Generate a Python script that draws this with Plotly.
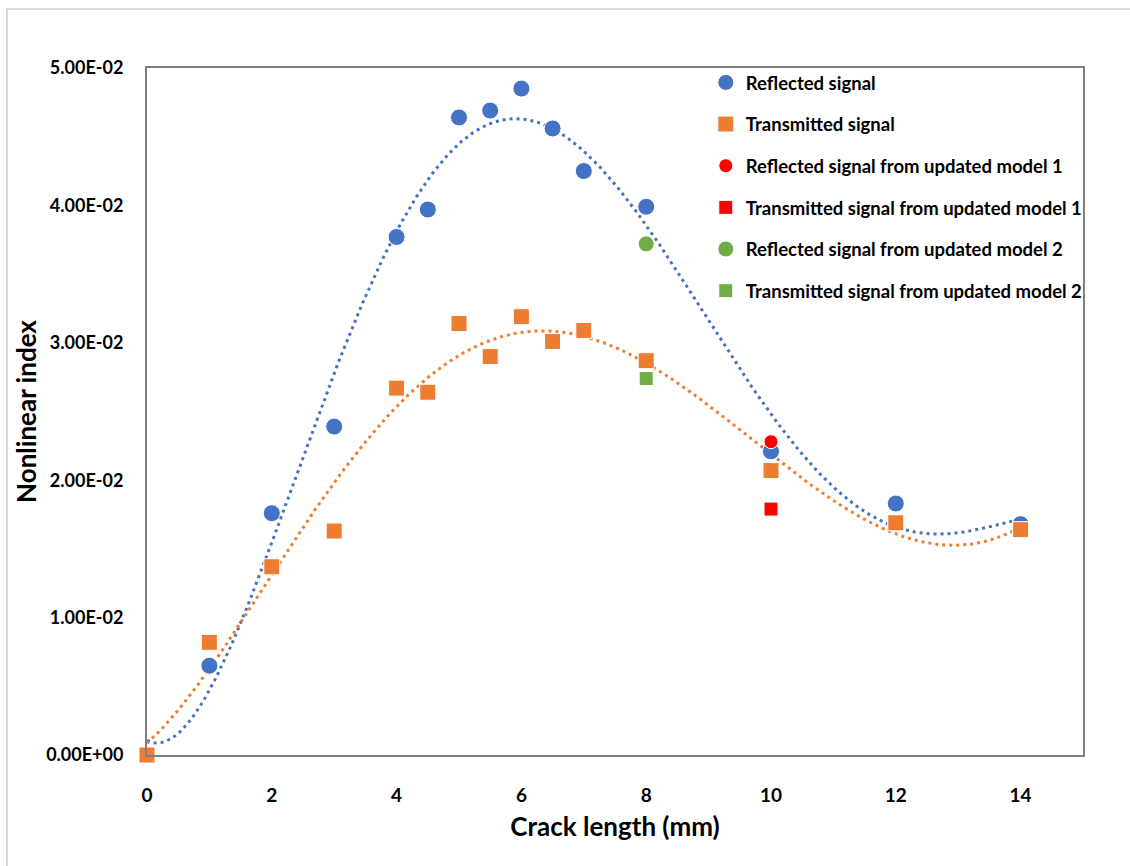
import numpy as np
import plotly.graph_objects as go

# ---- data ----
crack_len = [0, 1, 2, 3, 4, 4.5, 5, 5.5, 6, 6.5, 7, 8, 10, 12, 14]
reflected = [0.0, 0.0065, 0.0176, 0.0239, 0.0377, 0.0397, 0.0464, 0.0469, 0.0485,
             0.0456, 0.0425, 0.0399, 0.0221, 0.0183, 0.0168]
transmitted = [0.0, 0.0082, 0.0137, 0.0163, 0.0267, 0.0264, 0.0314, 0.0290, 0.0319,
               0.0301, 0.0309, 0.0287, 0.0207, 0.0169, 0.0164]
upd1_x = [10]
upd1_reflected = [0.0228]
upd1_transmitted = [0.0179]
upd2_x = [8]
upd2_reflected = [0.0372]
upd2_transmitted = [0.0274]

y_tickvals = [0, 0.01, 0.02, 0.03, 0.04, 0.05]
y_ticktext = ["0.00E+00", "1.00E-02", "2.00E-02", "3.00E-02", "4.00E-02", "5.00E-02"]
x_tickvals = [0, 2, 4, 6, 8, 10, 12, 14]

BLUE = "#4472C4"
ORANGE = "#ED7D31"
RED = "#FF0000"
GREEN = "#70AD47"
FONT = "Lato"

# polynomial trendlines (order 5, like Excel's polynomial trendline)
xs = np.linspace(min(crack_len), max(crack_len), 400)
fit_r = np.polyval(np.polyfit(crack_len, reflected, 5), xs)
fit_t = np.polyval(np.polyfit(crack_len, transmitted, 5), xs)

fig = go.Figure()
dotdash = "3px,4px"
fig.add_trace(go.Scatter(x=xs, y=fit_r, mode="lines", showlegend=False, hoverinfo="skip",
                         line=dict(color=BLUE, width=3, dash=dotdash)))
fig.add_trace(go.Scatter(x=xs, y=fit_t, mode="lines", showlegend=False, hoverinfo="skip",
                         line=dict(color=ORANGE, width=3, dash=dotdash)))

def pts(x, y, name, color, symbol, size, group):
    return go.Scatter(x=x, y=y, mode="markers", name=name, legendgroup=group,
                      cliponaxis=False,
                      marker=dict(color=color, symbol=symbol, size=size,
                                  line=dict(color="white", width=1)))

fig.add_trace(pts(crack_len, reflected, "Reflected signal", BLUE, "circle", 17, "a"))
fig.add_trace(pts(crack_len, transmitted, "Transmitted signal", ORANGE, "square", 16, "b"))
fig.add_trace(pts(upd1_x, upd1_reflected, "Reflected signal from updated model 1", RED, "circle", 14, "c"))
fig.add_trace(pts(upd1_x, upd1_transmitted, "Transmitted signal from updated model 1", RED, "square", 14, "d"))
fig.add_trace(pts(upd2_x, upd2_reflected, "Reflected signal from updated model 2", GREEN, "circle", 16, "e"))
fig.add_trace(pts(upd2_x, upd2_transmitted, "Transmitted signal from updated model 2", GREEN, "square", 14, "f"))

fig.update_layout(
    width=1130, height=866,
    margin=dict(l=147, r=47, t=68, b=111),
    paper_bgcolor="white", plot_bgcolor="white",
    font=dict(family=FONT, color="black"),
    showlegend=True,
    legend=dict(x=0.597, y=1.006, xanchor="left", yanchor="top",
                bgcolor="rgba(0,0,0,0)", tracegroupgap=14.6,
                font=dict(family=FONT, size=18.5, weight="bold", color="black")),
    xaxis=dict(range=[0, 15], tickvals=x_tickvals, showgrid=False, zeroline=False,
               showline=True, linecolor="#7f7f7f", linewidth=2, mirror=True,
               ticks="", ticklabelstandoff=22,
               tickfont=dict(family=FONT, size=19, weight="bold", color="black"),
               title=dict(text="Crack length (mm)", standoff=13,
                          font=dict(family=FONT, size=26, weight="bold", color="black"))),
    yaxis=dict(range=[0, 0.05], tickvals=y_tickvals, ticktext=y_ticktext, showgrid=False,
               zeroline=False, showline=True, linecolor="#7f7f7f", linewidth=2, mirror=True,
               ticks="", ticklabelstandoff=18,
               tickfont=dict(family=FONT, size=18, weight="bold", color="black"),
               title=dict(text="Nonlinear index", standoff=2,
                          font=dict(family=FONT, size=26, weight="bold", color="black"))),
    shapes=[dict(type="rect", xref="paper", yref="paper",
                 x0=(7 - 147) / 936, x1=1.3, y0=-0.4, y1=1 + (68 - 9) / 687,
                 line=dict(color="#d9d9d9", width=2), fillcolor="rgba(0,0,0,0)",
                 layer="below")],
)

fig.write_html("out.html")
